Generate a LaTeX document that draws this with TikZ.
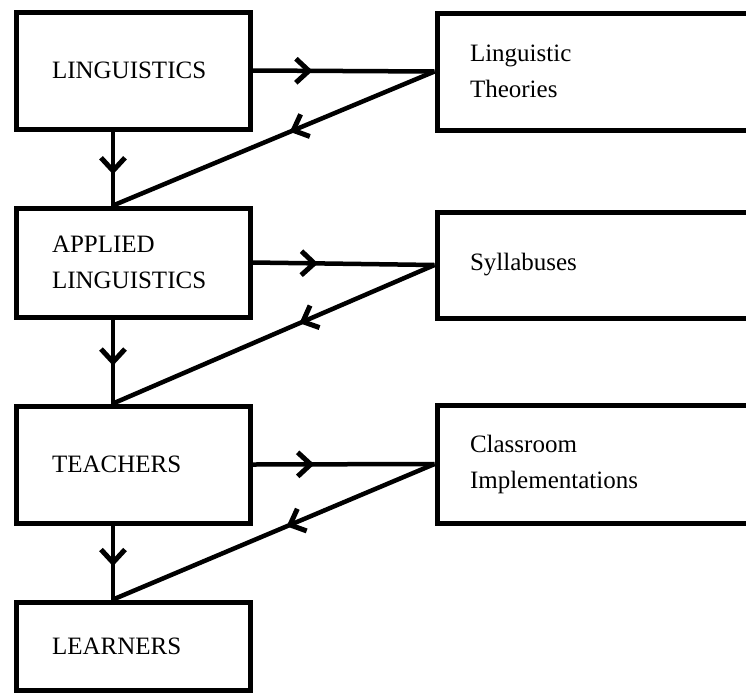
\documentclass[tikz,border=0pt]{standalone}
\usepackage{fontspec}
\setmainfont{Liberation Serif}
\usetikzlibrary{decorations.markings,arrows.meta,positioning}

\begin{document}
\begin{tikzpicture}[x=1pt,y=-1pt,
        every node/.style={shape=rectangle,draw,line width=5pt,align=left,font=\fontsize{25}{36}\selectfont},
        leftbox/.style={text width=162pt,inner xsep=36pt,inner ysep=0pt},
        rightbox/.style={text width=257pt,inner xsep=33pt,inner ysep=0pt},
        link/.style={draw=black,line width=4.5pt,postaction={decorate,decoration={markings,mark=at position #1 with {\arrow[line width=5pt]{Straight Barb[length=13pt,width=24pt]}}}}},
        ]
\useasboundingbox (0,0) rectangle (746,694);

% left column
\node [leftbox, minimum height=117pt] (ling) at (133,70.5) {LINGUISTICS};
\node [leftbox, minimum height=109pt] (appl) at (133,262.5) {APPLIED\\LINGUISTICS};
\node [leftbox, minimum height=117pt] (teach) at (133,464.5) {TEACHERS};
\node [leftbox, minimum height=88pt] (learn) at (133,646) {LEARNERS};

% right column
\node [rightbox, minimum height=117pt] (theo) at (598.5,71.5) {Linguistic\\Theories};
\node [rightbox, minimum height=106pt] (syll) at (598.5,265) {Syllabuses};
\node [rightbox, minimum height=118pt] (impl) at (598.5,464) {Classroom\\Implementations};

% down the column
\draw [link=0.58] ([xshift=-20pt]ling.south) -- ([xshift=-20pt]appl.north);
\draw [link=0.55] ([xshift=-20pt]appl.south) -- ([xshift=-20pt]teach.north);
\draw [link=0.55] ([xshift=-20pt]teach.south) -- ([xshift=-20pt]learn.north);

% across and back
\draw [link=0.33] (ling.east) -- (theo.west);
\draw [link=0.45] (theo.west) -- ([xshift=-20pt]appl.north);
\draw [link=0.36] (appl.east) -- (syll.west);
\draw [link=0.42] (syll.west) -- ([xshift=-20pt]teach.north);
\draw [link=0.34] (teach.east) -- (impl.west);
\draw [link=0.46] (impl.west) -- ([xshift=-20pt]learn.north);

\end{tikzpicture}
\end{document}
